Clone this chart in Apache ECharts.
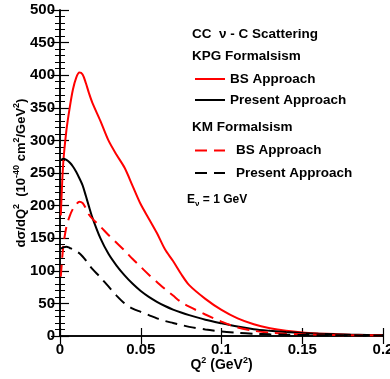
<!DOCTYPE html>
<html>
<head>
<meta charset="utf-8">
<script src="https://cdn.jsdelivr.net/npm/echarts@6/dist/echarts.min.js"></script>
<style>html,body{margin:0;padding:0;background:#fff;}#c{width:390px;height:379px;}</style>
</head>
<body>
<div id="c"></div>
<script>
// Q^2 grid (GeV^2)
const q = [0.0005, 0.002, 0.004, 0.006, 0.008, 0.010, 0.012, 0.014, 0.016, 0.018, 0.020,
  0.025, 0.030, 0.035, 0.040, 0.045, 0.050, 0.055, 0.060, 0.065, 0.070, 0.075, 0.080,
  0.090, 0.100, 0.110, 0.120, 0.130, 0.140, 0.150, 0.160, 0.170, 0.180, 0.190, 0.200];
// KPG formalism, BS approach (red solid)
const kpgBS = [185, 265, 316, 350, 378, 396, 404, 401, 388, 372, 358,
  330, 300, 278, 258, 230, 202, 180, 158, 133, 115, 95, 78,
  57, 40, 27, 18, 12, 8, 5.5, 4, 3, 2, 1.5, 1];
// KPG formalism, present approach (black solid)
const kpgPresent = [270, 272, 270, 266, 260, 252, 242, 231, 215, 198, 182,
  150, 126, 108, 93, 80, 69, 60, 52.5, 46, 40.5, 36, 32,
  25, 19.5, 14.5, 10.5, 8, 6, 4.5, 3.5, 2.5, 2, 1.5, 1];
// KM formalism, BS approach (red dashed)
const kmBS = [91, 137, 168, 184, 195, 202, 206, 204, 196, 186, 180,
  168, 155, 143, 131, 118, 106, 94, 83, 72, 62, 52, 45,
  33, 22, 13, 8, 5, 3.5, 2.5, 2, 1.5, 1.2, 1, 1];
// KM formalism, present approach (black dashed)
const kmPresent = [134, 136, 137, 135, 133, 130, 127, 122, 116, 109, 103,
  90, 76, 62, 50, 42, 37, 32, 27, 23, 20, 17, 14,
  10, 7, 5, 3.5, 2.5, 2, 1.5, 1.2, 1, 1, 0.8, 0.8];
const legendLabels = {
  'KPG BS': 'BS Approach', 'KPG Present': 'Present Approach',
  'KM BS': 'BS Approach', 'KM Present': 'Present Approach'
};

const FF = '"Liberation Sans", Arial, Helvetica, sans-serif';
const pairs = arr => q.map((x, i) => [x, arr[i]]);
const supRich = {
  b: {fontSize: 13, fontWeight: 'bold', fontFamily: FF, color: '#000', lineHeight: 18},
  s: {fontSize: 9, fontWeight: 'bold', fontFamily: FF, color: '#000', verticalAlign: 'top', lineHeight: 18}
};

const chart = echarts.init(document.getElementById('c'), null, {renderer: 'canvas'});
const axisLine = {show: true, lineStyle: {color: '#000', width: 1.5}};
const labelStyle = {fontSize: 15, fontWeight: 'bold', fontFamily: FF, color: '#000'};
function mkSeries(name, data, color, dashed) {
  return {
    name, type: 'line', data: pairs(data), smooth: 0.3, showSymbol: false, symbol: 'none',
    lineStyle: {color, width: 2, type: dashed ? [12, 7] : 'solid'},
    itemStyle: {color}, silent: true, animation: false, clip: true
  };
}
const legendBase = {
  orient: 'vertical', left: 194, itemWidth: 30, itemHeight: 14, padding: 0,
  selectedMode: false,
  itemStyle: {color: 'rgba(0,0,0,0)', borderColor: 'rgba(0,0,0,0)', borderWidth: 0},
  formatter: n => legendLabels[n]
};
chart.setOption({
  animation: false,
  backgroundColor: '#fff',
  grid: {left: 60, right: 7, top: 10, bottom: 43, containLabel: false, outerBoundsMode: 'none'},
  xAxis: [{
    type: 'value', min: 0, max: 0.2, interval: 0.05, position: 'bottom',
    axisLine, axisTick: {show: true, inside: true, length: 8, lineStyle: {color: '#000', width: 1.2}},
    axisLabel: Object.assign({margin: 6, formatter: v => String(+v.toFixed(2))}, labelStyle),
    splitLine: {show: false},
    name: 'Q{s|2} (GeV{s|2})', nameLocation: 'middle', nameGap: 20, nameMoveOverlap: false,
    nameTextStyle: {rich: {
      b: {fontSize: 14, fontWeight: 'bold', fontFamily: FF, color: '#000', lineHeight: 18},
      s: {fontSize: 9, fontWeight: 'bold', fontFamily: FF, color: '#000', verticalAlign: 'top', lineHeight: 18}
    }, fontSize: 14, fontWeight: 'bold', fontFamily: FF, color: '#000'}
  }, {
    type: 'value', min: 0, max: 0.2, interval: 0.05, position: 'top',
    axisLine, axisTick: {show: true, inside: true, length: 8, lineStyle: {color: '#000', width: 1.2}},
    axisLabel: {show: false}, splitLine: {show: false}
  }],
  yAxis: [{
    type: 'value', min: 0, max: 500, interval: 50, position: 'left',
    axisLine, axisTick: {show: true, inside: true, length: 9, lineStyle: {color: '#000', width: 1.2}},
    minorTick: {show: true, splitNumber: 5, length: 5, lineStyle: {color: '#000', width: 1}},
    axisLabel: Object.assign({margin: 5}, labelStyle),
    splitLine: {show: false}, minorSplitLine: {show: false},
    name: '{b|d\u03c3/dQ}{s|2}{b|  (10}{s|-40}{b| cm}{s|2}{b|/GeV}{s|2}{b|)}',
    nameLocation: 'middle', nameRotate: 90, nameGap: 30, nameMoveOverlap: false,
    nameTextStyle: {rich: supRich}
  }, {
    type: 'value', min: 0, max: 500, interval: 50, position: 'right',
    axisLine, axisTick: {show: true, inside: true, length: 9, lineStyle: {color: '#000', width: 1.2}},
    minorTick: {show: true, splitNumber: 5, length: 5, lineStyle: {color: '#000', width: 1}},
    axisLabel: {show: false}, splitLine: {show: false}
  }],
  legend: [Object.assign({}, legendBase, {
    data: ['KPG BS', 'KPG Present'], top: 72, itemGap: 7,
    textStyle: {fontSize: 13.5, fontWeight: 'bold', fontFamily: FF, color: '#000'}
  }), Object.assign({}, legendBase, {
    data: ['KM BS', 'KM Present'], top: 143.5, itemGap: 8.5,
    textStyle: {fontSize: 13.5, fontWeight: 'bold', fontFamily: FF, color: '#000', padding: [0, 0, 0, 6]}
  })],
  graphic: [
    {type: 'text', left: 192, top: 27, style: {text: 'CC  \u03bd - C Scattering', font: 'bold 13.5px ' + FF, fill: '#000'}},
    {type: 'text', left: 192, top: 49, style: {text: 'KPG Formalsism', font: 'bold 13.5px ' + FF, fill: '#000'}},
    {type: 'text', left: 192, top: 120.5, style: {text: 'KM Formalsism', font: 'bold 13.5px ' + FF, fill: '#000'}},
    {type: 'text', left: 187, top: 194, style: {
      text: '{a|E}{s|\u03bd}{a| = 1 GeV}',
      rich: {
        a: {fontSize: 12, fontWeight: 'bold', fontFamily: FF, fill: '#000', lineHeight: 16},
        s: {fontSize: 8, fontWeight: 'bold', fontFamily: FF, fill: '#000', verticalAlign: 'bottom', lineHeight: 16}
      }
    }}
  ],
  series: [
    mkSeries('KPG BS', kpgBS, '#ff0000', false),
    mkSeries('KPG Present', kpgPresent, '#000000', false),
    mkSeries('KM BS', kmBS, '#ff0000', true),
    mkSeries('KM Present', kmPresent, '#000000', true)
  ]
});
</script>
</body>
</html>
